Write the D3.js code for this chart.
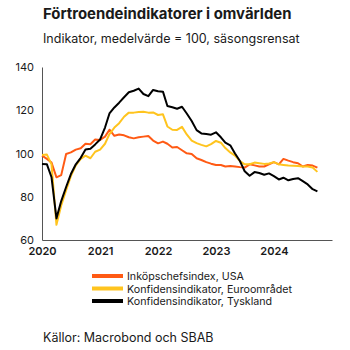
<!DOCTYPE html>
<html>
<head>
<meta charset="utf-8">
<script src="https://cdn.jsdelivr.net/npm/d3@7"></script>
<style>
  body { margin: 0; background: #fff; }
  text { font-family: Inter, "Open Sans", sans-serif; fill: #1a1a1a; }
</style>
</head>
<body>
<svg id="chart" width="350" height="350"></svg>
<script>
// monthly values, Jan 2020 - Oct 2024
const startMonth = new Date(2020, 0, 1);

const usa = [99, 97.5, 95.8, 89, 90, 99.8, 100.5, 101.8, 102.4, 104.5, 104.3, 106.5,
  106.3, 107.8, 111, 108.2, 108.8, 108.4, 107.5, 107, 107.5, 107.8, 108.1, 106,
  104.7, 105.5, 104.5, 102.8, 103, 101.5, 100.1, 99.8, 97.8, 97, 96, 95.3,
  94.7, 94.7, 94, 94.2, 94, 93.7, 93.5, 95, 94.5, 94, 94, 95,
  96, 95, 97.5, 96.7, 96, 95.5, 94, 94.7, 94.4, 93.5];

const euro = [99.3, 99.5, 95, 67, 76, 83, 89.5, 94.5, 97.5, 99, 97.8, 100.8,
  101.8, 104.5, 109, 112, 114, 117, 118.9, 118.9, 119.2, 119.3, 118.9, 119,
  117.8, 118.1, 112.5, 111, 110.9, 112.3, 108.8, 106, 104.8, 104, 103.3, 104.3,
  105.8, 105, 102.5, 100.5, 99, 96.5, 95, 95, 95.8, 95.5, 95.2, 95.4,
  96, 95, 94.7, 94.4, 94.3, 94.2, 94, 94, 93.5, 91.5];

const germany = [95.2, 95, 89, 70, 78, 84.5, 90.5, 95, 98, 101.8, 102.2, 104.2,
  106.5, 112, 118.5, 121.3, 123.5, 126, 128.3, 129, 130, 127.5, 126.5, 129.4,
  128.8, 128.6, 122, 121.4, 120.7, 121.6, 118.5, 115, 110.8, 109.3, 109, 108.7,
  109.8, 107.5, 105, 103.8, 100, 96.5, 91.8, 89.7, 91.4, 91, 90.2, 90.8,
  89.5, 88, 88.8, 87.6, 88.2, 88.6, 87.2, 85.7, 83.5, 82.5];

const seriesNames = ["Inköpschefsindex, USA", "Konfidensindikator, Euroområdet", "Konfidensindikator, Tyskland"];
const seriesColors = ["#ff5a14", "#ffc41e", "#000000"];
const yTicks = [60, 80, 100, 120, 140];
const xTickYears = [2020, 2021, 2022, 2023, 2024];

const title = "Förtroendeindikatorer i omvärlden";
const subtitle = "Indikator, medelvärde = 100, säsongsrensat";
const source = "Källor: Macrobond och SBAB";

const svg = d3.select("#chart");
const margin = { left: 42, right: 18, top: 67, bottom: 110 };
const W = 350, H = 350;

const x = d3.scaleTime()
  .domain([startMonth, new Date(2025, 0, 1)])
  .range([margin.left, W - margin.right]);
const y = d3.scaleLinear()
  .domain([60, 140])
  .range([H - margin.bottom, margin.top]);

const dates = usa.map((d, i) => d3.timeMonth.offset(startMonth, i));
const allSeries = [usa, euro, germany];

// titles
svg.append("text").attr("x", 43).attr("y", 19)
  .attr("font-size", 14.9).attr("font-weight", 700).text(title);
svg.append("text").attr("x", 43).attr("y", 43)
  .attr("font-size", 12.5).text(subtitle);

// axes
const yAxis = svg.append("g").attr("transform", `translate(${margin.left},0)`)
  .call(d3.axisLeft(y).tickValues(yTicks).tickSize(0).tickPadding(8));
yAxis.select(".domain").attr("stroke", "#555");
yAxis.selectAll("text").attr("font-size", 11).attr("font-family", "Inter, sans-serif").attr("fill", "#1a1a1a");

const xAxis = svg.append("g").attr("transform", `translate(0,${y(60)})`)
  .call(d3.axisBottom(x).tickValues(xTickYears.map(yr => new Date(yr, 0, 1)))
    .tickFormat(d3.timeFormat("%Y")).tickSize(0).tickPadding(7));
xAxis.select(".domain").attr("stroke", "#555");
xAxis.selectAll("text").attr("font-size", 11).attr("font-weight", 600)
  .attr("font-family", "Inter, sans-serif").attr("fill", "#1a1a1a");

// lines
const line = d3.line()
  .x((d, i) => x(dates[i]))
  .y(d => y(d));

allSeries.forEach((s, i) => {
  svg.append("path")
    .datum(s)
    .attr("fill", "none")
    .attr("stroke", seriesColors[i])
    .attr("stroke-width", 2)
    .attr("stroke-linejoin", "round")
    .attr("d", line);
});

// legend
const legend = svg.append("g").attr("transform", "translate(92,276)");
seriesNames.forEach((name, i) => {
  const row = legend.append("g").attr("transform", `translate(0,${i * 12.5})`);
  row.append("rect").attr("x", 0).attr("y", -2).attr("width", 31).attr("height", 4)
    .attr("fill", seriesColors[i]);
  row.append("text").attr("x", 35).attr("y", 4).attr("font-size", 10.7).text(name);
});

svg.append("text").attr("x", 43).attr("y", 342)
  .attr("font-size", 12.5).text(source);
</script>
</body>
</html>
